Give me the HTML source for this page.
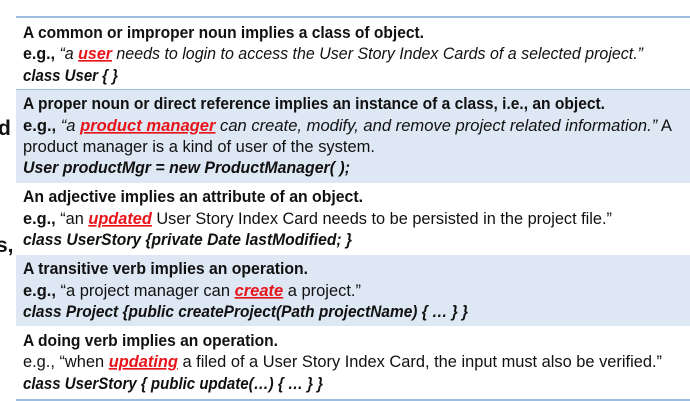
<!DOCTYPE html>
<html><head><meta charset="utf-8"><style>
html,body{margin:0;padding:0;background:#fff;width:690px;height:401px;overflow:hidden}
svg{display:block}
text{font-family:"Liberation Sans",sans-serif;font-size:16.5px;fill:#111}
.b{font-weight:bold}.i{font-style:italic}.r{fill:#e8141a;font-weight:bold;font-style:italic;text-decoration:underline}
</style></head><body>
<svg width="690" height="401" viewBox="0 0 690 401" xmlns="http://www.w3.org/2000/svg">
<rect x="16" y="90" width="674" height="93" fill="#dde8f4"/>
<rect x="16" y="255" width="674" height="71" fill="#dde8f4"/>
<line x1="16" y1="17" x2="690" y2="17" stroke="#9dbde0" stroke-width="2"/>
<line x1="16" y1="89.5" x2="690" y2="89.5" stroke="#9dbde0" stroke-width="1"/>
<line x1="16" y1="400" x2="690" y2="400" stroke="#9dbde0" stroke-width="2"/>
<text x="-2" y="135" style="font-size:21px;font-weight:bold">d</text>
<text x="-4" y="252" style="font-size:21px;font-weight:bold">s,</text>

<text x="23" y="38" class="b" textLength="401" lengthAdjust="spacingAndGlyphs">A common or improper noun implies a class of object.</text>
<text x="23" y="59" textLength="620" lengthAdjust="spacingAndGlyphs"><tspan class="b">e.g., </tspan><tspan class="i">“a </tspan><tspan class="r">user</tspan><tspan class="i"> needs to login to access the User Story Index Cards of a selected project.”</tspan></text>
<text x="23" y="81" class="b i" textLength="95" lengthAdjust="spacingAndGlyphs">class User { }</text>

<text x="23" y="109" class="b" textLength="582" lengthAdjust="spacingAndGlyphs">A proper noun or direct reference implies an instance of a class, i.e., an object.</text>
<text x="23" y="131" textLength="649" lengthAdjust="spacingAndGlyphs"><tspan class="b">e.g., </tspan><tspan class="i">“a </tspan><tspan class="r">product manager</tspan><tspan class="i"> can create, modify, and remove project related information.”</tspan> A</text>
<text x="23" y="152" textLength="352" lengthAdjust="spacingAndGlyphs">product manager is a kind of user of the system.</text>
<text x="23" y="173" class="b i" textLength="327" lengthAdjust="spacingAndGlyphs">User productMgr = new ProductManager( );</text>

<text x="23" y="202" class="b" textLength="340" lengthAdjust="spacingAndGlyphs">An adjective implies an attribute of an object.</text>
<text x="23" y="224" textLength="589" lengthAdjust="spacingAndGlyphs"><tspan class="b">e.g., </tspan>“an <tspan class="r">updated</tspan> User Story Index Card needs to be persisted in the project file.”</text>
<text x="23" y="245" class="b i" textLength="329" lengthAdjust="spacingAndGlyphs">class UserStory {private Date lastModified; }</text>

<text x="23" y="274" class="b" textLength="285" lengthAdjust="spacingAndGlyphs">A transitive verb implies an operation.</text>
<text x="23" y="296" textLength="338" lengthAdjust="spacingAndGlyphs"><tspan class="b">e.g., </tspan>“a project manager can <tspan class="r">create</tspan> a project.”</text>
<text x="23" y="317" class="b i" textLength="445" lengthAdjust="spacingAndGlyphs">class Project {public createProject(Path projectName) { … } }</text>

<text x="23" y="346" class="b" textLength="255" lengthAdjust="spacingAndGlyphs">A doing verb implies an operation.</text>
<text x="23" y="367" textLength="639" lengthAdjust="spacingAndGlyphs">e.g., “when <tspan class="r">updating</tspan> a filed of a User Story Index Card, the input must also be verified.”</text>
<text x="23" y="389" class="b i" textLength="300" lengthAdjust="spacingAndGlyphs">class UserStory { public update(…) { … } }</text>
</svg>
</body></html>
